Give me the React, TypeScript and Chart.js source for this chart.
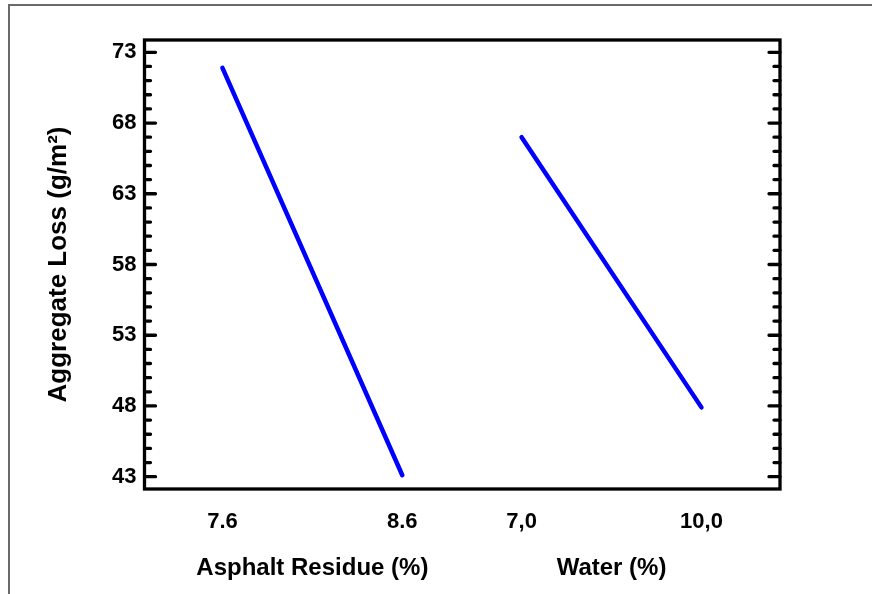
import React, { useEffect, useRef } from "react";
import { Chart, registerables } from "chart.js";

Chart.register(...registerables);

// ---- data ----
const factorNames = ["Asphalt Residue (%)", "Water (%)"];
const asphaltLevels = ["7.6", "8.6"];
const waterLevels = ["7,0", "10,0"];
const asphaltLoss = [71.9, 43.1];
const waterLoss = [67.0, 47.9];
const yTickValues = [43, 48, 53, 58, 63, 68, 73];
const yTitle = "Aggregate Loss (g/m²)";

// ---- layout (positions along the shared x axis) ----
const X_MIN = 0;
const X_MAX = 10.6;
const asphaltPos = [1.3, 4.3];
const waterPos = [6.29, 9.29];
const Y_MIN = 42.13;
const Y_MAX = 73.87;

const levelLabels = [...asphaltLevels, ...waterLevels];
const levelPos = [...asphaltPos, ...waterPos];
const groupCenters = [
  (asphaltPos[0] + asphaltPos[1]) / 2,
  (waterPos[0] + waterPos[1]) / 2,
];

const tickFont = { family: "'Liberation Sans', Arial, sans-serif", size: 22, weight: "bold" as const };
const titleFont = { family: "'Liberation Sans', Arial, sans-serif", size: 24, weight: "bold" as const };
const yTitleFont = { family: "'Liberation Sans', Arial, sans-serif", size: 26, weight: "bold" as const };

const framePlugin = {
  id: "frame",
  beforeDraw(chart: any) {
    const ctx = chart.ctx;
    ctx.save();
    ctx.fillStyle = "#fff";
    ctx.fillRect(0, 0, chart.width, chart.height);
    ctx.strokeStyle = "#6a6a6a";
    ctx.lineWidth = 2;
    ctx.strokeRect(9, 5, 1000, 1000);
    ctx.restore();
  },
  afterDraw(chart: any) {
    const { ctx, chartArea } = chart;
    const { left, right, top, bottom } = chartArea;
    const y = chart.scales.y;
    ctx.save();
    ctx.strokeStyle = "#000";
    ctx.lineWidth = 3.3;
    ctx.strokeRect(left, top, right - left, bottom - top);
    ctx.lineCap = "round";
    for (let v = Math.ceil(Y_MIN); v <= Y_MAX; v++) {
      const py = y.getPixelForValue(v);
      const len = yTickValues.includes(v) ? 11 : 6;
      ctx.beginPath();
      ctx.moveTo(left, py);
      ctx.lineTo(left + len, py);
      ctx.moveTo(right, py);
      ctx.lineTo(right - len, py);
      ctx.stroke();
    }
    ctx.restore();
  },
};

export default function App() {
  const ref = useRef<HTMLCanvasElement>(null);

  useEffect(() => {
    document.body.style.margin = "0";
    const canvas = ref.current;
    if (!canvas) return;
    const chart = new Chart(canvas, {
      type: "line",
      data: {
        datasets: [
          {
            label: factorNames[0],
            data: asphaltPos.map((x, i) => ({ x, y: asphaltLoss[i] })),
            borderColor: "#0000ff",
            borderWidth: 4.5,
            borderCapStyle: "round",
            pointRadius: 0,
            tension: 0,
          },
          {
            label: factorNames[1],
            data: waterPos.map((x, i) => ({ x, y: waterLoss[i] })),
            borderColor: "#0000ff",
            borderWidth: 4.5,
            borderCapStyle: "round",
            pointRadius: 0,
            tension: 0,
          },
        ],
      },
      options: {
        animation: false,
        responsive: false,
        devicePixelRatio: 1,
        layout: { padding: { left: 0, top: 40, right: 92, bottom: 0 } },
        plugins: { legend: { display: false }, tooltip: { enabled: false } },
        scales: {
          x: {
            type: "linear",
            position: "bottom",
            min: X_MIN,
            max: X_MAX,
            weight: 1,
            grid: { display: false, drawTicks: false },
            border: { display: false },
            afterBuildTicks: (s: any) => {
              s.ticks = levelPos.map((v) => ({ value: v }));
            },
            afterFit: (s: any) => {
              s.height = 48;
            },
            ticks: {
              autoSkip: false,
              maxRotation: 0,
              padding: 20,
              color: "#000",
              font: tickFont,
              callback: (_v: any, i: number) => levelLabels[i],
            },
          },
          x2: {
            type: "linear",
            axis: "x",
            position: "bottom",
            min: X_MIN,
            max: X_MAX,
            weight: 2,
            grid: { display: false, drawTicks: false },
            border: { display: false },
            afterBuildTicks: (s: any) => {
              s.ticks = groupCenters.map((v) => ({ value: v }));
            },
            afterFit: (s: any) => {
              s.height = 57;
            },
            ticks: {
              autoSkip: false,
              maxRotation: 0,
              padding: 17,
              color: "#000",
              font: titleFont,
              callback: (_v: any, i: number) => factorNames[i],
            },
          },
          y: {
            type: "linear",
            position: "left",
            min: Y_MIN,
            max: Y_MAX,
            grid: { display: false, drawTicks: false },
            border: { display: false },
            afterBuildTicks: (s: any) => {
              s.ticks = yTickValues.map((v) => ({ value: v }));
            },
            afterFit: (s: any) => {
              s.width = 144.5;
            },
            ticks: {
              padding: 8,
              color: "#000",
              font: tickFont,
              callback: (v: any) => String(v),
            },
            title: {
              display: true,
              text: yTitle,
              color: "#000",
              font: yTitleFont,
              padding: { top: 43, bottom: 0 },
            },
          },
        },
      },
      plugins: [framePlugin],
    } as any);
    return () => chart.destroy();
  }, []);

  return (
    <div style={{ width: 872, height: 594, position: "relative" }}>
      <canvas ref={ref} width={872} height={594} style={{ display: "block" }} />
    </div>
  );
}
